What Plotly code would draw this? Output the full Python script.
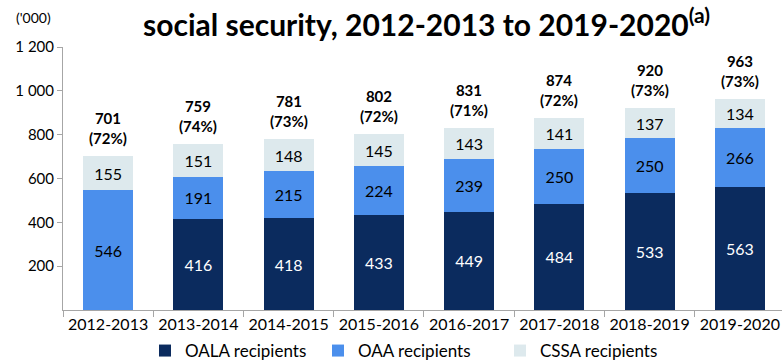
import plotly.graph_objects as go

years = ["2012-2013", "2013-2014", "2014-2015", "2015-2016", "2016-2017", "2017-2018", "2018-2019", "2019-2020"]
oala = [None, 416, 418, 433, 449, 484, 533, 563]
oaa = [546, 191, 215, 224, 239, 250, 250, 266]
cssa = [155, 151, 148, 145, 143, 141, 137, 134]
totals = [701, 759, 781, 802, 831, 874, 920, 963]
pcts = [72, 74, 73, 72, 71, 72, 73, 73]
ytickvals = [200, 400, 600, 800, 1000, 1200]
yticktext = ["200", "400", "600", "800", "1 000", "1 200"]

FONT = "Lato"
W, H = 782, 363
fig = go.Figure()
series = [
    ("OALA recipients", oala, "#0b2b5e", "white", "legend", 145),
    ("OAA recipients", oaa, "#4b8fec", "black", "legend2", 318),
    ("CSSA recipients", cssa, "#dde9ed", "black", "legend3", 500),
]
legend_layout = {}
for name, vals, col, tcol, leg, lx in series:
    fig.add_trace(go.Bar(
        x=years, y=vals, name=name, marker=dict(color=col, line=dict(width=0)),
        width=0.555, legend=leg,
        text=[("" if v is None else str(v)) for v in vals],
        textposition="inside", insidetextanchor="middle", textangle=0,
        textfont=dict(family=FONT, size=16, color=tcol),
    ))
    legend_layout[leg] = dict(
        xref="container", yref="container", x=lx / W, y=(H - 351) / H,
        xanchor="left", yanchor="middle", orientation="h",
        font=dict(family=FONT, size=17), itemwidth=30,
        bgcolor="rgba(0,0,0,0)",
    )

for yr, t, p in zip(years, totals, pcts):
    fig.add_annotation(x=yr, y=t, text=f"<b>{t}<br>({p}%)</b>", showarrow=False,
                       yanchor="bottom", yshift=7,
                       font=dict(family=FONT, size=15, color="black"))

fig.add_annotation(xref="paper", yref="paper", x=0.5, y=1, xanchor="center", yanchor="bottom",
                   yshift=3, xshift=4,
                   text="<b>social security, 2012-2013 to 2019-2020<sup>(a)</sup></b>",
                   showarrow=False, font=dict(family=FONT, size=30, color="black"))
fig.add_annotation(xref="paper", yref="paper", x=0, y=1, xanchor="right", yanchor="bottom",
                   xshift=-10, yshift=19, text="('000)", showarrow=False,
                   font=dict(family=FONT, size=14, color="black"))

fig.update_layout(
    barmode="stack",
    width=W, height=H,
    margin=dict(l=63, r=0, t=47, b=53, autoexpand=False),
    paper_bgcolor="white", plot_bgcolor="white",
    font=dict(family=FONT, size=15, color="black"),
    uniformtext=dict(minsize=8, mode="show"),
    showlegend=True,
    **legend_layout,
)
fig.update_xaxes(range=[-0.5, 7.467], showline=True, linecolor="#a6a6a6", linewidth=1,
                 ticks="outside", ticklen=6, tickcolor="#a6a6a6", tickson="boundaries",
                 tickfont=dict(family=FONT, size=16), showgrid=False)
fig.update_yaxes(range=[0, 1200], tickvals=ytickvals, ticktext=yticktext,
                 showline=True, linecolor="#a6a6a6", linewidth=1, ticks="outside",
                 ticklen=5, tickcolor="#a6a6a6", showgrid=False, zeroline=False,
                 tickfont=dict(family=FONT, size=15))

fig.write_html("out.html")
